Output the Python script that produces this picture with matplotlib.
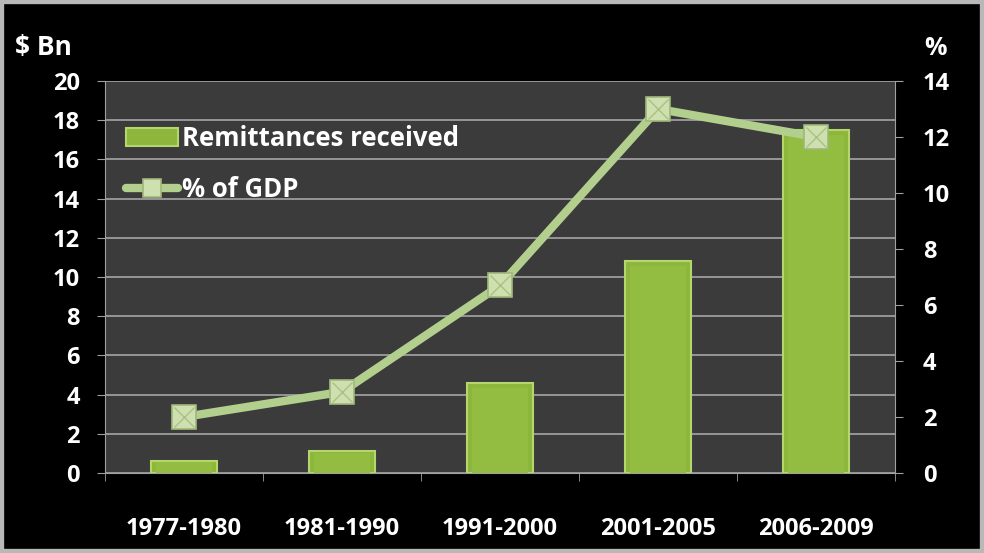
import matplotlib
matplotlib.use("Agg")
import matplotlib.pyplot as plt
from matplotlib.patches import Rectangle
import numpy as np

plt.rcParams['font.family'] = ['Open Sans', 'DejaVu Sans']
plt.rcParams['font.weight'] = 'bold'

periods = ["1977-1980", "1981-1990", "1991-2000", "2001-2005", "2006-2009"]
remittances_bn = [0.6, 1.1, 4.6, 10.8, 17.5]
pct_of_gdp = [2.0, 2.9, 6.7, 13.0, 12.0]
left_ticks = list(range(0, 21, 2))
right_ticks = list(range(0, 15, 2))

fig = plt.figure(figsize=(9.84, 5.53), dpi=100, facecolor="black")
# light frame around the slide
fig.patches.append(Rectangle((0, 0), 1, 1, transform=fig.transFigure,
                             facecolor="none", edgecolor="#b8b8b8", lw=6, zorder=0))

ax = fig.add_axes([0.1067, 0.1447, 0.803, 0.7089])
ax.set_facecolor("#3b3b3b")
x = np.arange(len(periods))

bar_color = "#8cb63c"
bars = ax.bar(x, remittances_bn, width=0.42, color=bar_color,
              edgecolor="#b4d66c", linewidth=1.5, zorder=3,
              label="Remittances received")
# bevel shading on each bar
for b in bars:
    x0, w, h = b.get_x(), b.get_width(), b.get_height()
    ax.add_patch(Rectangle((x0 + w * 0.08, 0), w * 0.84, h - min(h * 0.08, 0.25),
                           facecolor="#93bd40", edgecolor="none", zorder=3.1))

ax.set_xlim(-0.5, len(periods) - 0.5)
ax.set_ylim(0, 20)
ax.set_yticks(left_ticks)
ax.set_yticklabels([str(t) for t in left_ticks])
ax.grid(axis="y", color="#a5a5a5", lw=1.2, zorder=1)
ax.set_axisbelow(True)

ax.set_xticks(x)
ax.set_xticklabels(periods)
ax.set_xticks(np.arange(-0.5, len(periods)), minor=True)
ax.tick_params(axis="x", which="major", length=0, pad=32, labelsize=17, colors="white")
ax.tick_params(axis="x", which="minor", length=6, color="#a0a0a0", direction="out")
ax.tick_params(axis="y", length=6, color="#a0a0a0", labelsize=17, labelcolor="white", pad=12)
for s in ["top", "right"]:
    ax.spines[s].set_visible(False)
ax.spines["left"].set_color("#a0a0a0")
ax.spines["bottom"].set_color("#a0a0a0")

ax2 = ax.twinx()
ax2.set_ylim(0, 14)
ax2.set_yticks(right_ticks)
ax2.set_yticklabels([str(t) for t in right_ticks])
ax2.tick_params(axis="y", length=6, color="#a0a0a0", labelsize=17, labelcolor="white", pad=14)
for s in ["top", "left", "bottom"]:
    ax2.spines[s].set_visible(False)
ax2.spines["right"].set_color("#a0a0a0")

line, = ax2.plot(x, pct_of_gdp, color="#b3cf8d", lw=6, zorder=4,
                 marker="s", markersize=17, markerfacecolor="#cfe0b0",
                 markeredgecolor="#9fb87a", markeredgewidth=1.2,
                 solid_capstyle="round", label="% of GDP")
ax2.plot(x, pct_of_gdp, linestyle="none", marker="x", markersize=14,
         markeredgecolor="#a9c283", markeredgewidth=1.0, zorder=5)

leg = ax.legend([bars, line], ["Remittances received", "% of GDP"],
                loc="upper left", bbox_to_anchor=(0.014, 0.915), frameon=False,
                fontsize=18.5, labelcolor="white", handlelength=2.0,
                handletextpad=0.15, labelspacing=0.95, borderaxespad=0,
                markerscale=0.8)
for t in leg.get_texts():
    t.set_fontweight("bold")

fig.text(0.015, 0.915, "\\$ Bn", color="white", fontsize=19, fontweight="bold",
         ha="left", va="center")
fig.text(0.951, 0.912, "%", color="white", fontsize=18, fontweight="bold",
         ha="center", va="center")

fig.savefig("out.png", dpi=100, facecolor=fig.get_facecolor())
